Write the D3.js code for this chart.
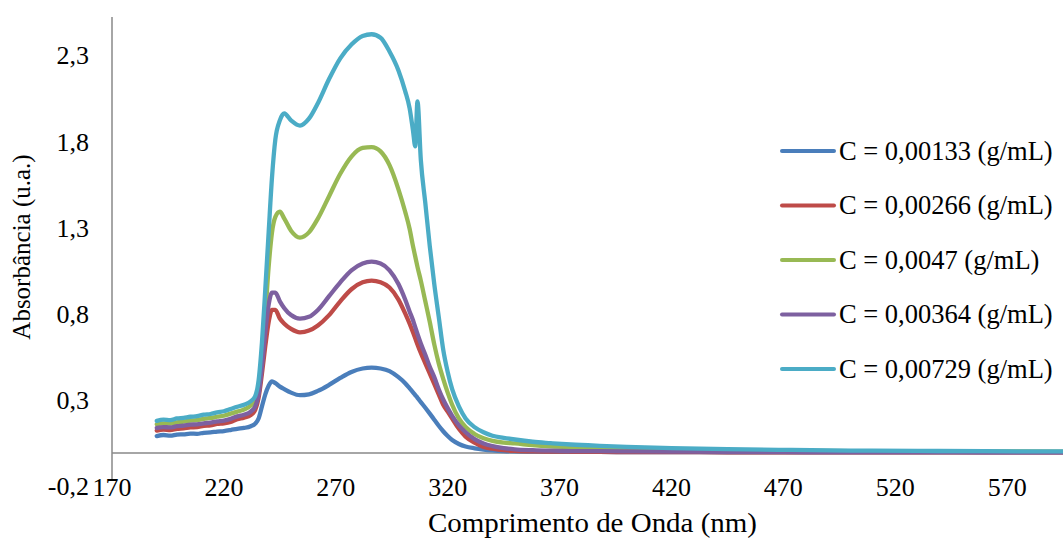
<!DOCTYPE html>
<html>
<head>
<meta charset="utf-8">
<script src="https://cdn.jsdelivr.net/npm/d3@7"></script>
<style>
  html, body { margin: 0; padding: 0; background: #ffffff; }
  svg { display: block; }
</style>
</head>
<body>
<svg id="chart" width="1063" height="540"></svg>
<script>
// Wavelengths (nm) shared by every spectrum
const wavelengths = [190, 193, 196, 199, 202, 205, 208, 211, 214, 217,
  220, 223, 226, 229, 232, 234, 235.5, 237, 238.5, 240,
  241.5, 243, 245, 247, 250, 254, 258, 262, 267, 272,
  277, 282, 286, 290, 294, 298, 301, 303, 304.5, 305.5,
  306.5, 308, 310, 312, 314, 316, 318, 320, 322, 325,
  328, 332, 336, 340, 345, 350, 358, 366, 375, 388,
  400, 420, 445, 470, 500, 530, 560, 600];

// Absorbance for each concentration
const absC00133 = [0.098, 0.104, 0.100, 0.106, 0.108, 0.112, 0.111, 0.117, 0.119, 0.124,
  0.127, 0.133, 0.140, 0.145, 0.155, 0.17, 0.20, 0.27, 0.34, 0.39,
  0.415, 0.405, 0.385, 0.37, 0.35, 0.335, 0.34, 0.36, 0.395, 0.435,
  0.47, 0.49, 0.495, 0.49, 0.475, 0.44, 0.405, 0.375, 0.352, 0.336,
  0.32, 0.295, 0.262, 0.228, 0.193, 0.158, 0.126, 0.098, 0.075, 0.052,
  0.037, 0.027, 0.02, 0.015, 0.011, 0.009, 0.008, 0.007, 0.006, 0.006,
  0.005, 0.005, 0.004, 0.004, 0.004, 0.003, 0.003, 0.003];

const absC00266 = [0.130, 0.135, 0.133, 0.140, 0.143, 0.148, 0.150, 0.157, 0.160, 0.168,
  0.172, 0.180, 0.196, 0.205, 0.22, 0.25, 0.32, 0.46, 0.62, 0.76,
  0.83, 0.83, 0.78, 0.75, 0.72, 0.70, 0.71, 0.74, 0.80, 0.88,
  0.95, 0.99, 1.00, 0.99, 0.96, 0.89, 0.81, 0.75, 0.70, 0.665,
  0.63, 0.58, 0.52, 0.46, 0.40, 0.34, 0.28, 0.24, 0.20, 0.14,
  0.095, 0.06, 0.035, 0.025, 0.016, 0.012, 0.009, 0.008, 0.007, 0.006,
  0.005, 0.005, 0.004, 0.004, 0.004, 0.003, 0.003, 0.003];

const absC0047 = [0.166, 0.172, 0.170, 0.178, 0.182, 0.188, 0.190, 0.198, 0.203, 0.210,
  0.216, 0.228, 0.240, 0.252, 0.275, 0.31, 0.38, 0.55, 0.80, 1.08,
  1.28, 1.37, 1.40, 1.36, 1.29, 1.25, 1.28, 1.36, 1.49, 1.62,
  1.72, 1.77, 1.775, 1.75, 1.67, 1.53, 1.40, 1.30, 1.20, 1.14,
  1.08, 1.00, 0.88, 0.76, 0.63, 0.52, 0.43, 0.35, 0.28, 0.20,
  0.15, 0.11, 0.085, 0.07, 0.06, 0.055, 0.045, 0.038, 0.033, 0.028,
  0.024, 0.02, 0.016, 0.013, 0.011, 0.01, 0.009, 0.008];

const absC00364 = [0.145, 0.150, 0.148, 0.155, 0.158, 0.164, 0.166, 0.172, 0.176, 0.183,
  0.188, 0.198, 0.212, 0.222, 0.24, 0.27, 0.34, 0.50, 0.70, 0.86,
  0.93, 0.93, 0.88, 0.84, 0.80, 0.78, 0.79, 0.83, 0.91, 0.99,
  1.06, 1.10, 1.11, 1.10, 1.06, 0.98, 0.89, 0.82, 0.77, 0.73,
  0.69, 0.635, 0.57, 0.50, 0.44, 0.37, 0.31, 0.26, 0.215, 0.16,
  0.12, 0.08, 0.055, 0.04, 0.028, 0.021, 0.016, 0.013, 0.011, 0.01,
  0.009, 0.008, 0.007, 0.006, 0.005, 0.005, 0.004, 0.004];

const absC00729 = [0.186, 0.193, 0.190, 0.200, 0.204, 0.210, 0.213, 0.222, 0.226, 0.236,
  0.242, 0.255, 0.268, 0.28, 0.30, 0.33, 0.42, 0.64, 0.95, 1.28,
  1.60, 1.82, 1.93, 1.97, 1.93, 1.90, 1.94, 2.03, 2.17, 2.29,
  2.37, 2.42, 2.43, 2.41, 2.33, 2.22, 2.10, 2.00, 1.87, 1.78,
  2.04, 1.70, 1.45, 1.20, 0.98, 0.79, 0.60, 0.47, 0.37, 0.27,
  0.20, 0.15, 0.12, 0.10, 0.088, 0.078, 0.065, 0.057, 0.049, 0.041,
  0.035, 0.028, 0.022, 0.018, 0.014, 0.012, 0.01, 0.009];

// Series in legend order
const seriesNames = ["C = 0,00133 (g/mL)", "C = 0,00266 (g/mL)", "C = 0,0047 (g/mL)",
  "C = 0,00364 (g/mL)", "C = 0,00729 (g/mL)"];
const seriesValues = [absC00133, absC00266, absC0047, absC00364, absC00729];
const seriesColors = ["#4a7ebb", "#be4b48", "#98b954", "#7d60a0", "#4bacc6"];

// Axis ticks
const xTicks = [170, 220, 270, 320, 370, 420, 470, 520, 570];
const yTicks = [-0.2, 0.3, 0.8, 1.3, 1.8, 2.3];

const FONT = "'Liberation Serif', 'Times New Roman', 'DejaVu Serif', serif";

const svg = d3.select("#chart");
const W = 1063, H = 540;
svg.append("rect").attr("width", W).attr("height", H).attr("fill", "#fff");

const x = d3.scaleLinear().domain([170, 600]).range([112, 1074.3]);
const y = d3.scaleLinear().domain([-0.2, 2.53]).range([487.4, 17]);
// Portuguese decimal comma, plain hyphen for negatives
const fmt = v => v.toFixed(1).replace(".", ",");

// Vertical axis line
svg.append("line")
  .attr("x1", x(170)).attr("x2", x(170))
  .attr("y1", y(2.53)).attr("y2", 479)
  .attr("stroke", "#898989").attr("stroke-width", 1.5);

// Horizontal axis at zero
svg.append("line")
  .attr("x1", x(170)).attr("x2", W)
  .attr("y1", y(0)).attr("y2", y(0))
  .attr("stroke", "#898989").attr("stroke-width", 1.5);

const label = (sel, size) => sel
  .attr("font-family", FONT)
  .attr("font-size", size)
  .attr("fill", "#000");

// Y tick labels
svg.append("g").selectAll("text").data(yTicks).join("text")
  .call(label, 26)
  .attr("x", 89)
  .attr("y", d => y(d))
  .attr("dy", "0.3em")
  .attr("text-anchor", "end")
  .text(fmt);

// X tick labels (placed below the plot)
svg.append("g").selectAll("text").data(xTicks).join("text")
  .call(label, 26)
  .attr("x", d => x(d))
  .attr("y", 487)
  .attr("dy", "0.33em")
  .attr("text-anchor", "middle")
  .text(d => d);

// Axis titles
svg.append("text")
  .call(label, 26.5)
  .attr("x", 428).attr("y", 523)
  .attr("dy", "0.33em")
  .attr("textLength", 329)
  .attr("lengthAdjust", "spacingAndGlyphs")
  .text("Comprimento de Onda (nm)");

svg.append("text")
  .call(label, 25)
  .attr("transform", "translate(22,247) rotate(-90)")
  .attr("dy", "0.33em")
  .attr("text-anchor", "middle")
  .text("Absorbância (u.a.)");

// Spectra
const line = d3.line()
  .x((d, i) => x(wavelengths[i]))
  .y(d => y(d))
  .curve(d3.curveMonotoneX);

const plot = svg.append("g");
seriesValues.forEach((vals, k) => {
  plot.append("path")
    .datum(vals)
    .attr("d", line)
    .attr("fill", "none")
    .attr("stroke", seriesColors[k])
    .attr("stroke-width", 4.3)
    .attr("stroke-linejoin", "round")
    .attr("stroke-linecap", "round");
});

// Legend
const legend = svg.append("g");
seriesNames.forEach((name, k) => {
  const cy = 151 + k * 54.5;
  legend.append("line")
    .attr("x1", 782).attr("x2", 834)
    .attr("y1", cy).attr("y2", cy)
    .attr("stroke", seriesColors[k])
    .attr("stroke-width", 4)
    .attr("stroke-linecap", "round");
  legend.append("text")
    .call(label, 26.5)
    .attr("x", 839).attr("y", cy)
    .attr("dy", "0.33em")
    .text(name);
});
</script>
</body>
</html>
